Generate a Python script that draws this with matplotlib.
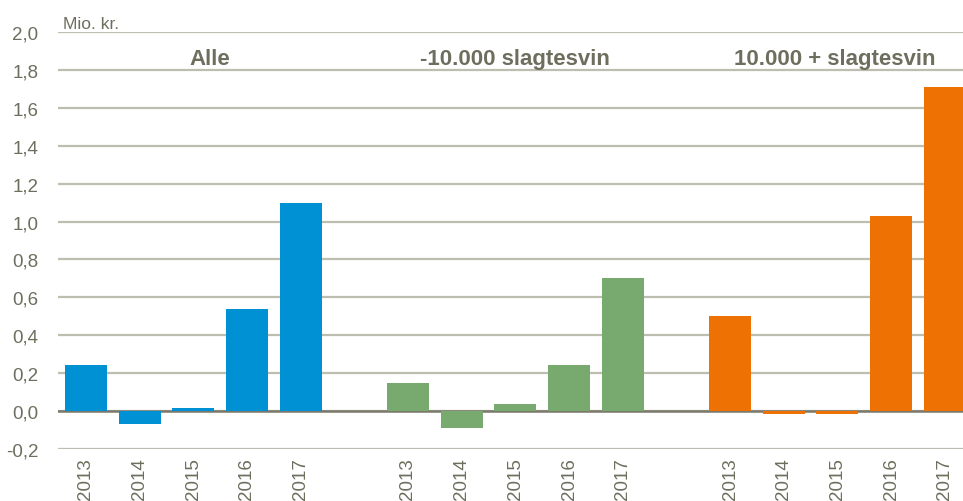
import matplotlib
matplotlib.use("Agg")
import matplotlib.pyplot as plt
from matplotlib import font_manager as fm

years = ["2013", "2014", "2015", "2016", "2017"]
groups = ["Alle", "-10.000 slagtesvin", "10.000 + slagtesvin"]
alle = [0.245, -0.07, 0.016, 0.54, 1.10]
small = [0.15, -0.09, 0.037, 0.245, 0.70]
large = [0.50, -0.016, -0.016, 1.03, 1.71]
series = [alle, small, large]
colors = ["#0091D5", "#78AA6F", "#EE7203"]
yticks = [-0.2, 0.0, 0.2, 0.4, 0.6, 0.8, 1.0, 1.2, 1.4, 1.6, 1.8, 2.0]

names = {f.name for f in fm.fontManager.ttflist}
fam = "Liberation Sans Narrow" if "Liberation Sans Narrow" in names else "Liberation Sans"
plt.rcParams["font.family"] = [fam, "DejaVu Sans"]

txt = "#6E6E5E"
grid = "#BDBDB0"

fig = plt.figure(figsize=(9.63, 5.02), dpi=100)
ax = fig.add_axes([58/963, 52/502, 1 - 58/963, (450-33)/502])

xpos_all = []
for g, vals in enumerate(series):
    xs = [g*6 + i for i in range(len(vals))]
    xpos_all += xs
    ax.bar(xs, vals, width=0.78, color=colors[g], zorder=3)
    ax.text(g*6 + 2 + (0.3 if g == 0 else 0) - (0.05 if g == 2 else 0), 1.833, groups[g],
            ha="center", va="baseline", fontsize=16, fontweight="bold", color=txt)

ax.set_xlim(-0.52, 16.34)
ax.set_ylim(-0.2, 2.0)
ax.set_yticks(yticks)
ax.set_yticklabels([f"{v:.1f}".replace(".", ",") for v in yticks], fontsize=13.5, color=txt)
ax.set_xticks(xpos_all)
ax.set_xticklabels(years*3, rotation=90, fontsize=13.5, color=txt)
ax.tick_params(length=0, pad=6)
ax.tick_params(axis="y", pad=14)
for s in ax.spines.values():
    s.set_visible(False)
for v in yticks:
    ax.axhline(v, color=grid, lw=1.6, zorder=1)
ax.axhline(0, color="#7A796B", lw=1.8, zorder=2)
ax.text(0.005, 2.003, "Mio. kr.", transform=ax.get_yaxis_transform(), ha="left", va="bottom",
        fontsize=12.5, color=txt)

fig.savefig("out.png", dpi=100)
